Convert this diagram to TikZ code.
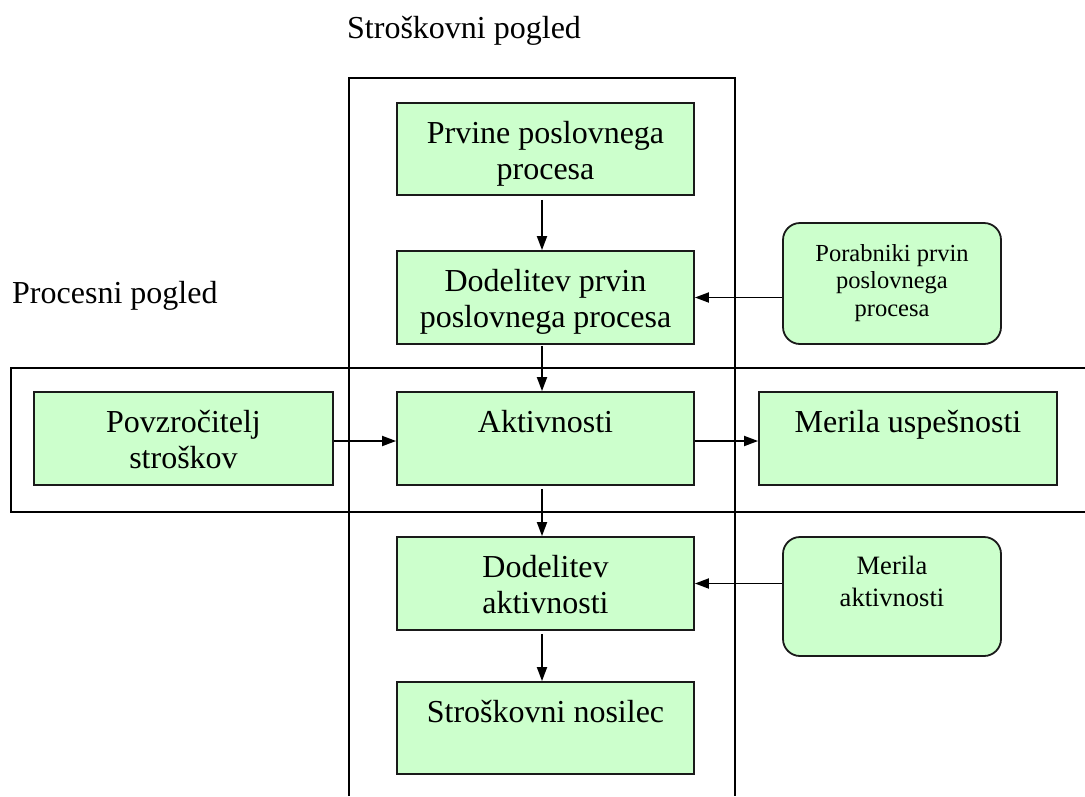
\documentclass[tikz,border=0pt]{standalone}
\usepackage{fontspec}
\setmainfont{Liberation Serif}
\usetikzlibrary{arrows.meta,calc}
\definecolor{boxgreen}{HTML}{CCFFCC}
\definecolor{edge}{HTML}{1A1A1A}
\tikzset{
  frame/.style={draw=black, line width=1.8pt},
  stepbox/.style={draw=edge, fill=boxgreen, line width=1.8pt, inner sep=0pt},
  roundbox/.style={stepbox, rounded corners=17pt},
  bigtext/.style={font=\fontsize{32}{36.5}\selectfont, align=center, inner sep=0pt, anchor=north},
  smalltext/.style={font=\fontsize{24.5}{27.5}\selectfont, align=center, inner sep=0pt, anchor=north},
  midtext/.style={font=\fontsize{26.5}{32}\selectfont, align=center, inner sep=0pt, anchor=north},
  heading/.style={font=\fontsize{32}{36}\selectfont, inner sep=0pt, anchor=base west},
  flow/.style={draw=black, line width=1.8pt, -{Triangle[length=14pt,width=10pt]}},
}
\begin{document}
\begin{tikzpicture}[x=1pt,y=-1pt]
\useasboundingbox (0,0) rectangle (1085,796);

% the two views
\draw[frame] (349,796) -- (349,78) -- (735,78) -- (735,796);
\draw[frame] (1085,368) -- (11,368) -- (11,512) -- (1085,512);
\node[heading] (costview) at (347,38) {Stroškovni pogled};
\node[heading] (procview) at (12,303) {Procesni pogled};

% boxes
\node[stepbox, minimum width=297pt, minimum height=92pt] (prvine) at (545.5,149) {};
\node[stepbox, minimum width=297pt, minimum height=93pt] (dodp) at (545.5,297.5) {};
\node[stepbox, minimum width=297pt, minimum height=93pt] (akt) at (545.5,438.5) {};
\node[stepbox, minimum width=299pt, minimum height=93pt] (povz) at (183.5,438.5) {};
\node[stepbox, minimum width=298pt, minimum height=93pt] (meru) at (908,438.5) {};
\node[stepbox, minimum width=297pt, minimum height=93pt] (doda) at (545.5,583.5) {};
\node[stepbox, minimum width=297pt, minimum height=92pt] (nosilec) at (545.5,728) {};
\node[roundbox, minimum width=218pt, minimum height=121pt] (porab) at (892,283.5) {};
\node[roundbox, minimum width=218pt, minimum height=119pt] (mera) at (892,596.5) {};

% box texts, set from the top edge
\node[bigtext] (prvine-t) at ($(prvine.north)+(0,18.5)$) {Prvine poslovnega\\procesa};
\node[bigtext] (dodp-t) at ($(dodp.north)+(0,18.5)$) {Dodelitev prvin\\poslovnega procesa};
\node[bigtext] (akt-t) at ($(akt.north)+(0,18.5)$) {Aktivnosti};
\node[bigtext] (povz-t) at ($(povz.north)+(0,18.5)$) {Povzročitelj\\stroškov};
\node[bigtext] (meru-t) at ($(meru.north)+(0,18.5)$) {Merila uspešnosti};
\node[bigtext] (doda-t) at ($(doda.north)+(0,18.5)$) {Dodelitev\\aktivnosti};
\node[bigtext] (nosilec-t) at ($(nosilec.north)+(0,18.5)$) {Stroškovni nosilec};
\node[smalltext] (porab-t) at ($(porab.north)+(0,22)$) {Porabniki prvin\\poslovnega\\procesa};
\node[midtext] (mera-t) at ($(mera.north)+(0,19.5)$) {Merila\\aktivnosti};

% connectors
\draw[flow, shorten <=4pt] ([xshift=-3.5pt]prvine.south) -- ([xshift=-3.5pt]dodp.north);
\draw[flow, shorten <=1pt] ([xshift=-3.5pt]dodp.south) -- ([xshift=-3.5pt]akt.north);
\draw[flow, shorten <=3pt] ([xshift=-3.5pt]akt.south) -- ([xshift=-3.5pt]doda.north);
\draw[flow, shorten <=3pt] ([xshift=-3.5pt]doda.south) -- ([xshift=-3.5pt]nosilec.north);
\draw[flow] ([yshift=-2.5pt]povz.east) -- ([yshift=-2.5pt]akt.west);
\draw[flow] ([yshift=-2.5pt]akt.east) -- ([yshift=-2.5pt]meru.west);
\draw[flow] (porab.west |- dodp.east) -- (dodp.east);
\draw[flow] (mera.west |- doda.east) -- (doda.east);
\end{tikzpicture}
\end{document}
